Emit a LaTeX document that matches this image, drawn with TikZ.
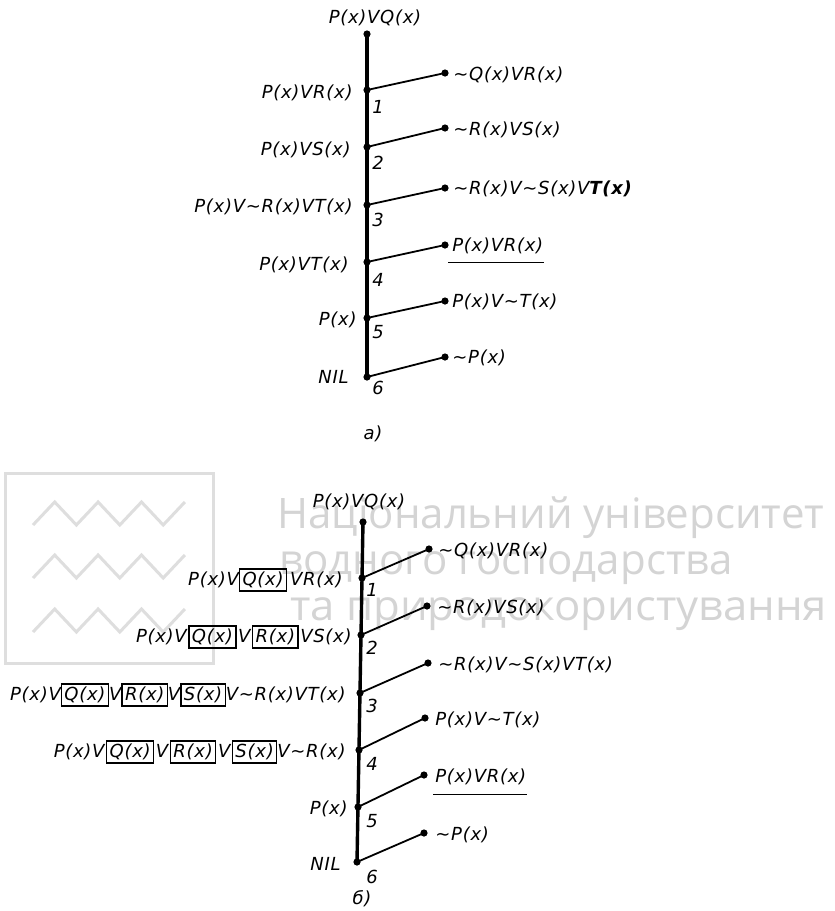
\documentclass[tikz,border=0pt]{standalone}
\usepackage{fontspec}
\usetikzlibrary{calc}
\newfontfamily\lf[LetterSpace=4]{DejaVu Sans}
\newfontfamily\wmfont{Open Sans}
\newcommand\negt{\textasciitilde}
\newcommand\gp{\hspace{0.8pt}}
\newcommand\boxedterm[1]{{\setlength\fboxsep{1.2pt}\setlength\fboxrule{0.6pt}\fbox{#1}}}
\definecolor{wmtxt}{RGB}{212,212,212}
\definecolor{wmln}{RGB}{222,222,222}
\begin{document}
\begin{tikzpicture}[x=0.5pt,y=-0.5pt,
  trunk/.style={line width=1.7pt},
  branch/.style={line width=0.9pt},
  dotn/.style={circle,fill=black,inner sep=0pt,minimum size=3.6pt},
  ftext/.style={font=\lf\itshape\fontsize{9}{10.8}\selectfont, inner sep=0pt},
  lab/.style={ftext, anchor=east},
  rlab/.style={ftext, anchor=west},
  num/.style={ftext},
  uline/.style={line width=0.8pt},
  wmline/.style={draw=wmln, line width=1.5pt},
  wmtext/.style={font=\wmfont\fontsize{21}{25}\selectfont, text=wmtxt, inner sep=0pt, anchor=base west},
]
\useasboundingbox (0,0) rectangle (835,911);
\fill[white] (0,0) rectangle (835,911);

% watermark
\draw[wmline] (5,473) rectangle (213,663);
\foreach \lo in {525,578,632}
  \draw[wmline] (33,\lo) -- ++(21.7,-23) -- ++(21.7,23) -- ++(21.7,-23) -- ++(21.7,23) -- ++(21.7,-23) -- ++(21.7,23) -- ++(21.7,-23);
\node[wmtext] (wm1) at (277,528) {Національний університет};
\node[wmtext] (wm2) at (279,574) {водного господарства};
\node[wmtext] (wm3) at (290,620) {\scalebox{1.04}[1]{та природокористування}};

% ---------------- part a ----------------
\node[dotn] (a0) at (367,34) {};
\node[dotn] (a1) at (367,90) {};
\node[dotn] (a2) at (367,147) {};
\node[dotn] (a3) at (367,205) {};
\node[dotn] (a4) at (367,262) {};
\node[dotn] (a5) at (367,318) {};
\node[dotn] (a6) at (367,377) {};
\node[dotn] (ar1) at (445,73) {};
\node[dotn] (ar2) at (445,128) {};
\node[dotn] (ar3) at (445,188) {};
\node[dotn] (ar4) at (445,245) {};
\node[dotn] (ar5) at (445,301) {};
\node[dotn] (ar6) at (445,357) {};
\draw[trunk] (a0.center) -- (a6.center);
\foreach \i in {1,...,6} \draw[branch] (a\i.center) -- (ar\i.center);

\node[ftext] (atitle) at (375,18) {P(x)VQ(x)};
\node[lab] (al1) at (353,93) {P(x)VR(x)};
\node[lab] (al2) at (351,150) {P(x)VS(x)};
\node[lab] (al3) at (353,207) {P(x)V\negt R(x)VT(x)};
\node[lab] (al4) at (349,265) {P(x)VT(x)};
\node[lab] (al5) at (357,320) {P(x)};
\node[lab] (al6) at (349,377) {NIL};

\node[rlab] (at1) at (453,75) {\negt Q(x)VR(x)};
\node[rlab] (at2) at (453,130) {\negt R(x)VS(x)};
\node[rlab] (at3) at (453,189) {\negt R(x)V\negt S(x)V\textbf{T(x)}};
\node[rlab] (at4) at (452,246) {P(x)VR(x)};
\node[rlab] (at5) at (452,302) {P(x)V\negt T(x)};
\node[rlab] (at6) at (452,358) {\negt P(x)};
\draw[uline] ($(at4.south west)+(-4,8)$) -- ($(at4.south east)+(0,8)$);

\foreach \i/\y in {1/107,2/163,3/220,4/280,5/332,6/388}
  \node[num] (an\i) at (378,\y) {\i};
\node[ftext] (capa) at (373,434) {а)};

% ---------------- part b ----------------
\node[dotn] (b0) at (363,522) {};
\node[dotn] (b1) at (362,578) {};
\node[dotn] (b2) at (361,635) {};
\node[dotn] (b3) at (360,693) {};
\node[dotn] (b4) at (359,750) {};
\node[dotn] (b5) at (358,807) {};
\node[dotn] (b6) at (357,862) {};
\node[dotn] (br1) at (429,549) {};
\node[dotn] (br2) at (427,606) {};
\node[dotn] (br3) at (428,663) {};
\node[dotn] (br4) at (425,718) {};
\node[dotn] (br5) at (424,775) {};
\node[dotn] (br6) at (424,833) {};
\draw[trunk] (b0.center) -- (b6.center);
\foreach \i in {1,...,6} \draw[branch] (b\i.center) -- (br\i.center);

\node[ftext] (btitle) at (359,502) {P(x)VQ(x)};
\node[lab] (bl1) at (343,580) {P(x)V\boxedterm{Q(x)}\,VR(x)};
\node[lab] (bl2) at (352,637) {P(x)V\gp\boxedterm{Q(x)}\gp V\gp\boxedterm{R(x)}\gp VS(x)};
\node[lab] (bl3) at (346,695) {P(x)V\boxedterm{Q(x)}V\boxedterm{R(x)}V\boxedterm{S(x)}V\negt R(x)VT(x)};
\node[lab] (bl4) at (346,752) {P(x)V\gp\boxedterm{Q(x)}\gp V\gp\boxedterm{R(x)}\gp V\gp\boxedterm{S(x)}V\negt R(x)};
\node[lab] (bl5) at (348,809) {P(x)};
\node[lab] (bl6) at (341,864) {NIL};

\node[rlab] (bt1) at (438,551) {\negt Q(x)VR(x)};
\node[rlab] (bt2) at (437,608) {\negt R(x)VS(x)};
\node[rlab] (bt3) at (438,665) {\negt R(x)V\negt S(x)VT(x)};
\node[rlab] (bt4) at (435,720) {P(x)V\negt T(x)};
\node[rlab] (bt5) at (435,777) {P(x)VR(x)};
\node[rlab] (bt6) at (435,835) {\negt P(x)};
\draw[uline] ($(bt5.south west)+(-2,9)$) -- ($(bt5.south east)+(0,9)$);

\foreach \i/\y in {1/590,2/648,3/706,4/764,5/821,6/877}
  \node[num] (bn\i) at (372,\y) {\i};
\node[ftext] (capb) at (362,899) {б)};
\end{tikzpicture}
\end{document}
